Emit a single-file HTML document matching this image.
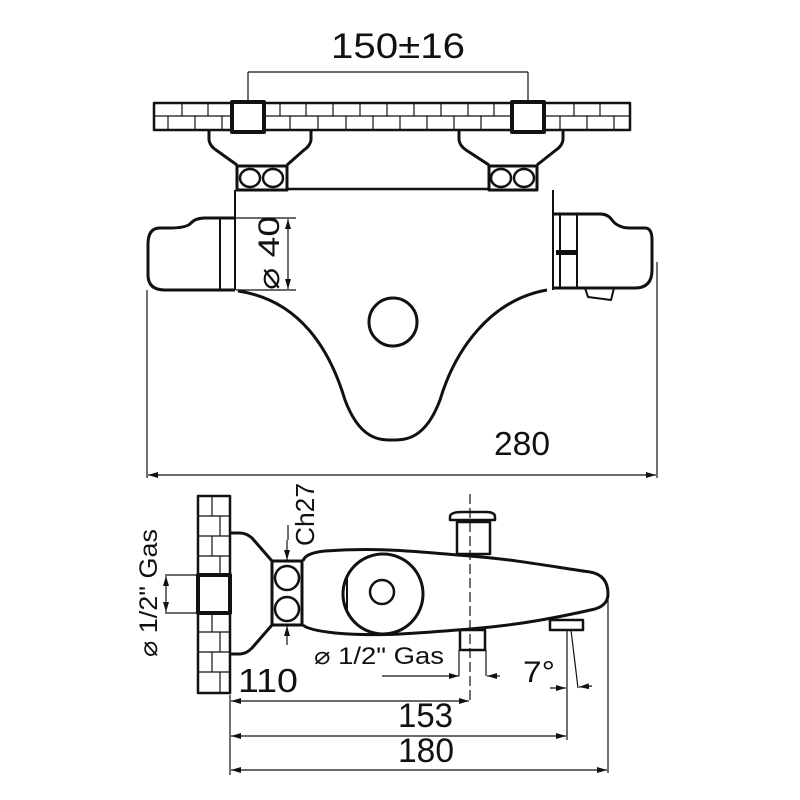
<!DOCTYPE html>
<html><head><meta charset="utf-8"><style>
html,body{margin:0;padding:0;background:#fff;width:800px;height:800px;overflow:hidden}
svg{display:block}
text{font-family:"Liberation Sans",sans-serif;fill:#111}
</style></head><body>
<svg width="800" height="800" viewBox="0 0 800 800" xmlns="http://www.w3.org/2000/svg">
<defs>
<marker id="a" viewBox="0 0 10 6" refX="10" refY="3" markerWidth="10" markerHeight="6" orient="auto-start-reverse" markerUnits="userSpaceOnUse"><path d="M0,0 L10,3 L0,6z" fill="#111"/></marker>
</defs>
<g stroke="#111" fill="none" stroke-width="3" stroke-linejoin="round">
<rect x="154" y="103" width="476" height="27" stroke-width="2.5"/>
<g stroke-width="1.2">
<line x1="154" y1="116" x2="630" y2="116"/>
<path d="M182,103v13 M208,103v13 M280,103v13 M306,103v13 M333,103v13 M360,103v13 M387,103v13 M414,103v13 M441,103v13 M468,103v13 M494,103v13 M574,103v13 M600,103v13"/>
<path d="M168,116v14 M195,116v14 M222,116v14 M290,116v14 M318,116v14 M346,116v14 M373,116v14 M400,116v14 M427,116v14 M454,116v14 M481,116v14 M560,116v14 M587,116v14 M614,116v14"/>
</g>
<rect x="232" y="102" width="32" height="30" fill="#fff" stroke-width="4"/>
<rect x="512" y="102" width="32" height="30" fill="#fff" stroke-width="4"/>
<path d="M209,130 V140 Q210,146 216,150 L237,165 M311,130 V140 Q310,146 304,150 L287,165"/>
<path d="M459,130 V140 Q460,146 466,150 L489,165 M563,130 V140 Q562,146 556,150 L537,165"/>
<rect x="237" y="166" width="50" height="24"/>
<rect x="489" y="166" width="48" height="24"/>
<g stroke-width="2.5">
<ellipse cx="250" cy="178" rx="10" ry="9"/><ellipse cx="273" cy="178" rx="10" ry="9"/>
<ellipse cx="501" cy="178" rx="10" ry="9"/><ellipse cx="524" cy="178" rx="10" ry="9"/>
</g>
<line x1="287" y1="189" x2="489" y2="189" stroke-width="2.5"/>
<line x1="235" y1="190" x2="235" y2="290" stroke-width="2"/>
<line x1="553" y1="190" x2="553" y2="290" stroke-width="2"/>
<path d="M235,218 H205 Q195,218 190,224 Q185,228 170,228 H160 Q148,228 148,244 V275 Q148,290 165,290 H235"/>
<line x1="220" y1="218" x2="220" y2="290" stroke-width="2"/>
<path d="M553,214 H600 Q608,214 612,220 Q618,228 630,228 H645 Q652,228 652,240 V270 Q652,288 635,288 H553"/>
<line x1="560" y1="214" x2="560" y2="288" stroke-width="2"/>
<line x1="577" y1="214" x2="577" y2="288" stroke-width="2"/>
<rect x="556" y="250" width="21" height="5" fill="#111" stroke="none"/>
<path d="M585,288 L588,297 L611,300 L614,288" stroke-width="2"/>
<path d="M238,291 C300,300 330,350 345,400 C360,440 380,440 392,440 C405,440 425,440 440,400 C455,350 490,300 547,290" />
<circle cx="393" cy="322" r="24"/>
</g>
<g stroke="#111" stroke-width="1.2" fill="none">
<line x1="248" y1="72" x2="248" y2="103"/><line x1="528" y1="72" x2="528" y2="103"/>
<line x1="248" y1="72" x2="528" y2="72"/>
<line x1="147" y1="290" x2="147" y2="478"/><line x1="657" y1="262" x2="657" y2="478"/>
<line x1="148" y1="475" x2="656" y2="475" marker-start="url(#a)" marker-end="url(#a)"/>
<line x1="236" y1="218" x2="296" y2="218"/><line x1="236" y1="290" x2="296" y2="290"/>
<line x1="288" y1="219" x2="288" y2="289" marker-start="url(#a)" marker-end="url(#a)"/>
</g>
<text x="331" y="58" font-size="35" textLength="134" lengthAdjust="spacingAndGlyphs">150±16</text>
<text x="494" y="455" font-size="33" textLength="56" lengthAdjust="spacingAndGlyphs">280</text>
<text transform="translate(279,290) rotate(-90)" font-size="30" textLength="74" lengthAdjust="spacingAndGlyphs">⌀ 40</text>

<g stroke="#111" fill="none" stroke-width="3" stroke-linejoin="round">
<rect x="198" y="496" width="32" height="197" stroke-width="2.5"/>
<g stroke-width="1.2">
<path d="M198,516h32 M198,536h32 M198,556h32 M198,632h32 M198,652h32 M198,672h32"/>
<path d="M212,496v20 M220,516v20 M212,536v20 M220,556v20 M212,613v19 M220,632v20 M212,652v20 M220,672v21"/>
</g>
<rect x="198" y="575" width="32" height="38" fill="#fff" stroke-width="4"/>
<path d="M231,533 H240 Q246,533 252,538 L272,561 M231,654 H240 Q246,654 252,648 L272,625"/>
<rect x="272" y="561" width="30" height="64"/>
<circle cx="287" cy="578" r="12" stroke-width="2.5"/><circle cx="287" cy="609" r="12" stroke-width="2.5"/>
<path d="M303,561 Q305,553 325,551 C380,547 420,552 470,556 C520,560 560,568 590,572 Q608,575 608,594 Q608,605 595,609 C560,617 520,625 470,629 C420,633 380,637 335,633 Q308,630 303,625"/>
<circle cx="383" cy="594" r="40"/>
<line x1="347" y1="577" x2="347" y2="612" stroke-width="2"/>
<circle cx="382" cy="592" r="12" stroke-width="2.5"/>
<rect x="457" y="522" width="33" height="32" stroke-width="2.5"/>
<path d="M450,517 Q450,512 462,512 H486 Q495,512 495,517 V520 H450z" stroke-width="2.5"/>
<rect x="460" y="630" width="25" height="20" stroke-width="2.5"/>
<rect x="550" y="620" width="33" height="10" stroke-width="2.5"/>
</g>
<g stroke="#111" stroke-width="1.2" fill="none">
<line x1="470" y1="494" x2="470" y2="700" stroke-dasharray="10,4"/>
<line x1="230" y1="695" x2="230" y2="775"/>
<line x1="165" y1="575" x2="198" y2="575"/><line x1="165" y1="613" x2="198" y2="613"/>
<line x1="166" y1="576" x2="166" y2="612" marker-start="url(#a)" marker-end="url(#a)"/>
<line x1="287" y1="540" x2="287" y2="560" marker-end="url(#a)"/>
<line x1="287" y1="645" x2="287" y2="626" marker-end="url(#a)"/>
<line x1="288" y1="525" x2="288" y2="540"/>
<line x1="382" y1="676" x2="459" y2="676" marker-end="url(#a)"/>
<line x1="459" y1="650" x2="459" y2="676"/><line x1="486" y1="650" x2="486" y2="676"/>
<line x1="500" y1="676" x2="487" y2="676" marker-end="url(#a)"/>
<line x1="231" y1="701" x2="469" y2="701" marker-start="url(#a)" marker-end="url(#a)"/>
<line x1="567" y1="630" x2="567" y2="740"/>
<line x1="571" y1="630" x2="578" y2="688"/>
<line x1="550" y1="688" x2="566" y2="688" marker-end="url(#a)"/>
<line x1="592" y1="686" x2="579" y2="687" marker-end="url(#a)"/>
<line x1="231" y1="736" x2="566" y2="736" marker-start="url(#a)" marker-end="url(#a)"/>
<line x1="608" y1="600" x2="608" y2="773"/>
<line x1="231" y1="770" x2="607" y2="770" marker-start="url(#a)" marker-end="url(#a)"/>
</g>
<text x="238" y="692" font-size="33" textLength="60" lengthAdjust="spacingAndGlyphs">110</text>
<text x="398" y="727" font-size="34" textLength="55" lengthAdjust="spacingAndGlyphs">153</text>
<text x="398" y="762" font-size="34" textLength="56" lengthAdjust="spacingAndGlyphs">180</text>
<text x="523" y="682" font-size="30" textLength="32" lengthAdjust="spacingAndGlyphs">7°</text>
<text x="314" y="664" font-size="24" textLength="130" lengthAdjust="spacingAndGlyphs">⌀ 1/2" Gas</text>
<text transform="translate(157,657) rotate(-90)" font-size="25" textLength="128" lengthAdjust="spacingAndGlyphs">⌀ 1/2" Gas</text>
<text transform="translate(314,546) rotate(-90)" font-size="26" textLength="63" lengthAdjust="spacingAndGlyphs">Ch27</text>
</svg>
</body></html>
